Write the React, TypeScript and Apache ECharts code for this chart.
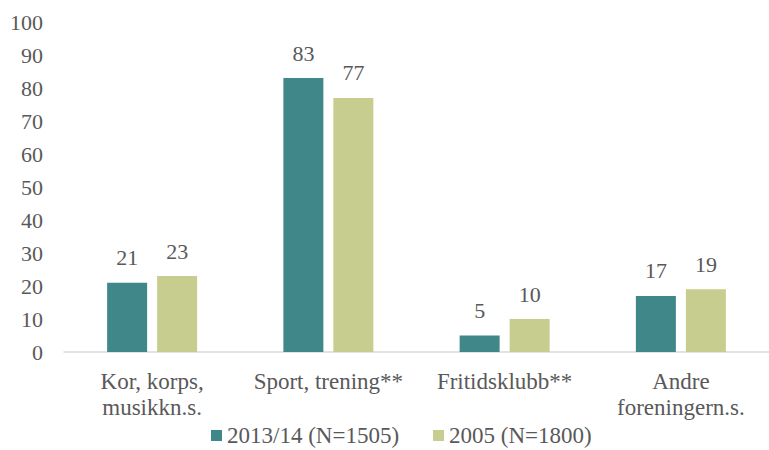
import React, { useEffect, useRef } from "react";
import * as echarts from "echarts";

const categories = ["Kor, korps,\nmusikkn.s.", "Sport, trening**", "Fritidsklubb**", "Andre\nforeningern.s."];
const series2013 = [21, 83, 5, 17];
const series2005 = [23, 77, 10, 19];
const seriesNames = ["2013/14 (N=1505)", "2005 (N=1800)"];

const FONT = "Liberation Serif";
const TXT = "#595959";

export default function App() {
  const ref = useRef<HTMLDivElement>(null);
  useEffect(() => {
    if (!ref.current) return;
    const chart = echarts.init(ref.current, undefined, { renderer: "svg" });
    const label = {
      show: true,
      position: "top" as const,
      distance: 14,
      color: TXT,
      fontFamily: FONT,
      fontSize: 22,
    };
    chart.setOption({
      animation: false,
      backgroundColor: "#ffffff",
      textStyle: { fontFamily: FONT },
      grid: { left: 64, top: 22, width: 713, height: 330, containLabel: false },
      legend: {
        left: 211,
        top: 424,
        padding: 0,
        itemWidth: 11,
        itemHeight: 11,
        itemGap: 34,
        icon: "rect",
        textStyle: { color: TXT, fontFamily: FONT, fontSize: 23, lineHeight: 23 },
        data: seriesNames,
      },
      xAxis: {
        type: "category",
        data: categories,
        axisLine: { lineStyle: { color: "#D9D9D9", width: 1.5 } },
        axisTick: { show: false },
        axisLabel: { color: TXT, fontFamily: FONT, fontSize: 23, lineHeight: 26, margin: 16, interval: 0 },
      },
      yAxis: {
        type: "value",
        min: 0,
        max: 100,
        interval: 10,
        axisLine: { show: false },
        axisTick: { show: false },
        splitLine: { show: false },
        axisLabel: { color: TXT, fontFamily: FONT, fontSize: 22, margin: 21 },
      },
      series: [
        {
          name: seriesNames[0],
          type: "bar",
          data: series2013,
          barWidth: 40,
          barGap: "25%",
          itemStyle: { color: "#3F8789" },
          label,
        },
        {
          name: seriesNames[1],
          type: "bar",
          data: series2005,
          barWidth: 40,
          itemStyle: { color: "#C6CD8E" },
          label,
        },
      ],
    });
    return () => chart.dispose();
  }, []);
  return <div ref={ref} style={{ position: "absolute", left: 0, top: 0, width: 769, height: 450 }} />;
}
